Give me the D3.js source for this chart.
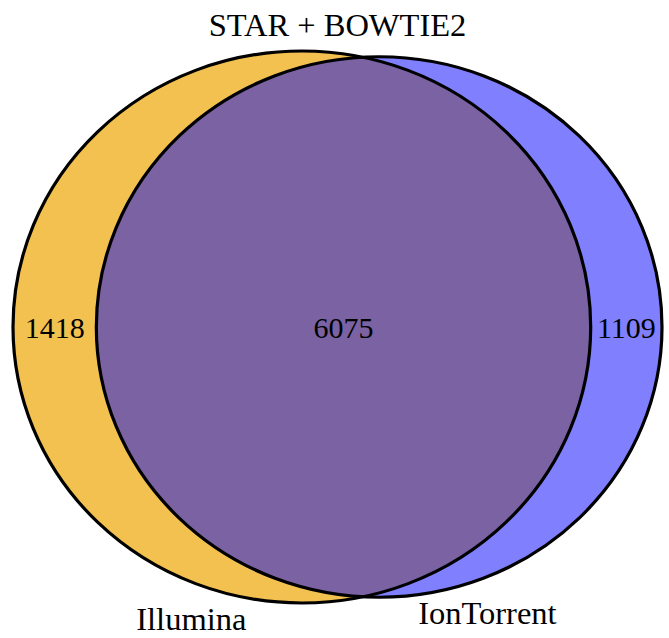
<!DOCTYPE html>
<html>
<head>
<meta charset="utf-8">
<script src="https://cdn.jsdelivr.net/npm/d3@7"></script>
<style>
  html, body { margin: 0; padding: 0; background: #fff; }
  svg { display: block; }
  text { font-family: "Liberation Serif", "Times New Roman", serif; fill: #000; }
</style>
</head>
<body>
<svg id="chart" width="669" height="638"></svg>
<script>
// ---- data ----
const title = "STAR + BOWTIE2";
const setNames = ["Illumina", "IonTorrent"];
const onlyCounts = [1418, 1109];   // only Illumina, only IonTorrent
const sharedCount = 6075;          // both
const setColors = ["#F2C14F", "#8080FF"];
const overlapColor = "#7A62A3";

// ---- geometry (area-proportional circles, solved numerically) ----
const totals = onlyCounts.map(c => c + sharedCount);
const radius = d3.scaleSqrt().domain([0, 1]).range([0, Math.sqrt(1 / Math.PI)]);
const r1 = radius(totals[0]), r2 = radius(totals[1]);

function lensArea(d, a, b) {
  if (d >= a + b) return 0;
  if (d <= Math.abs(a - b)) return Math.PI * Math.min(a, b) ** 2;
  const t1 = a * a * Math.acos((d * d + a * a - b * b) / (2 * d * a));
  const t2 = b * b * Math.acos((d * d + b * b - a * a) / (2 * d * b));
  const t3 = 0.5 * Math.sqrt((-d + a + b) * (d + a - b) * (d - a + b) * (d + a + b));
  return t1 + t2 - t3;
}
let lo = Math.abs(r1 - r2) + 1e-9, hi = r1 + r2;
for (let i = 0; i < 200; i++) {
  const mid = (lo + hi) / 2;
  if (lensArea(mid, r1, r2) > sharedCount) lo = mid; else hi = mid;
}
const dist = (lo + hi) / 2;

const svg = d3.select("#chart");
const x = d3.scaleLinear().domain([-r1, dist + r2]).range([13, 662]);
const y = d3.scaleLinear().domain([-r1, r1]).range([51, 603]);
const kx = x(1) - x(0), ky = y(1) - y(0);

const circles = [
  { cx: 0, r: r1, color: setColors[0] },
  { cx: dist, r: r2, color: setColors[1] }
];

const defs = svg.append("defs");
defs.append("clipPath").attr("id", "clipLeft")
  .append("ellipse")
  .attr("cx", x(circles[0].cx)).attr("cy", y(0))
  .attr("rx", circles[0].r * kx).attr("ry", circles[0].r * ky);

// fills
svg.selectAll("ellipse.fill").data(circles).enter().append("ellipse")
  .attr("class", "fill")
  .attr("cx", d => x(d.cx)).attr("cy", y(0))
  .attr("rx", d => d.r * kx).attr("ry", d => d.r * ky)
  .attr("fill", d => d.color);

// overlap
svg.append("ellipse")
  .attr("clip-path", "url(#clipLeft)")
  .attr("cx", x(circles[1].cx)).attr("cy", y(0))
  .attr("rx", circles[1].r * kx).attr("ry", circles[1].r * ky)
  .attr("fill", overlapColor);

// outlines
svg.selectAll("ellipse.edge").data(circles).enter().append("ellipse")
  .attr("class", "edge")
  .attr("cx", d => x(d.cx)).attr("cy", y(0))
  .attr("rx", d => d.r * kx).attr("ry", d => d.r * ky)
  .attr("fill", "none").attr("stroke", "#000").attr("stroke-width", 3.2);

// subset labels: midpoints of regions along the centre line
const Ll = x(-r1), Lr = x(r1), Rl = x(dist - r2), Rr = x(dist + r2);
const subsetLabels = [
  { v: onlyCounts[0], px: (Ll + Rl) / 2 },
  { v: sharedCount, px: (Rl + Lr) / 2 },
  { v: onlyCounts[1], px: (Lr + Rr) / 2 }
];
svg.selectAll("text.count").data(subsetLabels).enter().append("text")
  .attr("class", "count")
  .attr("x", d => d.px).attr("y", y(0))
  .attr("dy", "0.35em")
  .attr("text-anchor", "middle")
  .style("font-size", "30px")
  .text(d => d.v);

// set labels
const s = Math.sin(Math.PI / 8);
const setLabels = [
  { name: setNames[0], px: x(-r1 * s), py: y(r1) },
  { name: setNames[1], px: x(dist + r2 * s), py: y(r2) }
];
svg.selectAll("text.set").data(setLabels).enter().append("text")
  .attr("class", "set")
  .attr("x", d => d.px).attr("y", d => d.py + 27)
  .attr("text-anchor", "middle")
  .style("font-size", "32.5px")
  .text(d => d.name);

// title
svg.append("text")
  .attr("x", (x(-r1) + x(dist + r2)) / 2).attr("y", 36)
  .attr("text-anchor", "middle")
  .style("font-size", "32.5px")
  .text(title);
</script>
</body>
</html>
